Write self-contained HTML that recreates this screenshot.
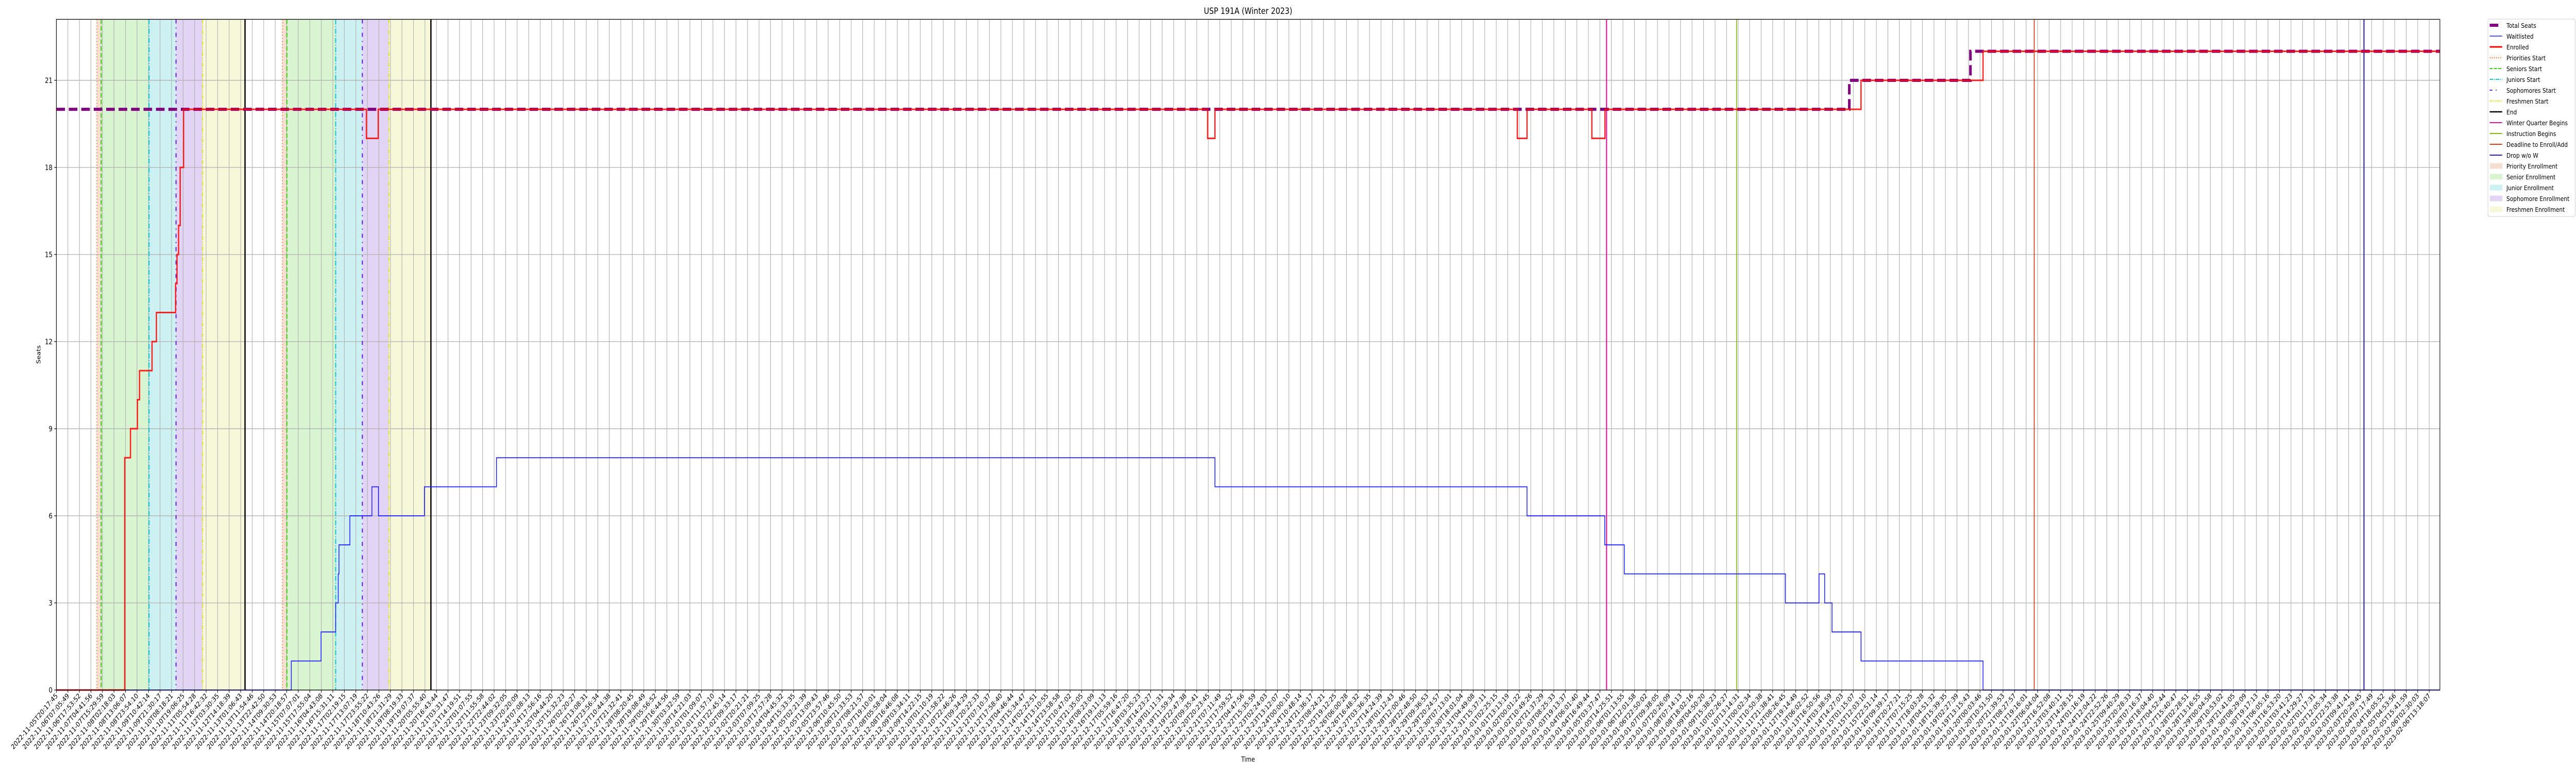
<!DOCTYPE html>
<html><head><meta charset="utf-8"><title>USP 191A (Winter 2023)</title>
<style>
html,body{margin:0;padding:0;background:#fff;width:100%;height:100%;overflow:hidden;}
svg{display:block;width:100vw;height:100vh;}
svg text{font-family:"DejaVu Sans","Liberation Sans",sans-serif;fill:#000;}
</style></head>
<body>
<svg id="chart" xmlns="http://www.w3.org/2000/svg" viewBox="0 0 6000 1500" preserveAspectRatio="none" overflow="hidden">
<rect x="0" y="0" width="6000" height="1500" fill="#fff"/>
<g id="bands"></g>
<g id="grid"></g>
<g id="events"></g>
<g id="series"></g>
<g id="axes"></g>
<text x="2907" y="27" font-size="17" text-anchor="middle">USP 191A (Winter 2023)</text>
<text x="2907" y="1478" font-size="13" text-anchor="middle">Time</text>
<text x="0" y="0" font-size="13" text-anchor="middle" transform="translate(94,688) rotate(-90)">Seats</text>
<g id="legend">
<rect x="5795" y="37" width="203" height="383" rx="3" fill="#fff" fill-opacity="0.8" stroke="#ccc" stroke-width="1"/>
</g>
</svg>
<script>
// ---------- data ----------
const startTime = "2022-11-05T20:17:45";
const totalHours = 2235.0;
const yMax = 23.1;
const yTicks = [0, 3, 6, 9, 12, 15, 18, 21];
const tickIntervalHours = 10.801;
const tickCount = 207;

const enrolledHours = [0, 64.1, 69.5, 76.0, 78.0, 89.7, 93.8, 111.8, 113.1, 114.6, 116.1, 119.3, 290.7, 301.8, 1079.5, 1086.4, 1369.9, 1379.0, 1439.8, 1452.1, 1692.2, 1806.6];
const enrolledValues = [0, 8, 9, 10, 11, 12, 13, 14, 15, 16, 18, 20, 19, 20, 19, 20, 19, 20, 19, 20, 21, 22];

const waitHours = [0, 220.3, 248.2, 261.9, 264.3, 265.0, 275.2, 295.9, 302.0, 345.1, 412.7, 1086.4, 1379.0, 1451.9, 1470.2, 1621.3, 1652.8, 1658.1, 1665.0, 1692.2, 1806.6];
const waitValues = [0, 1, 2, 3, 4, 5, 6, 7, 6, 7, 8, 7, 6, 5, 4, 3, 4, 3, 2, 1, 0];

const seatHours = [0, 1681.2, 1794.8];
const seatValues = [20, 21, 22];

const priorityStarts = [38.0, 212.0];
const seniorStarts = [42.0, 216.1];
const juniorStarts = [86.9, 261.9];
const sophomoreStarts = [112.2, 286.9];
const freshmenStarts = [137.1, 311.8];
const endTimes = [176.9, 351.2];
const winterBegins = [1453.6];
const instructionBegins = [1575.5];
const deadlineEnroll = [1854.6];
const dropNoW = [2163.8];

// ---------- layout ----------
const NS = "http://www.w3.org/2000/svg";
const L = 131.3, R = 5683, T = 37.5, B = 1339;
const xs = h => L + (h / totalHours) * (R - L);
const ys = v => B - (v / yMax) * (B - T);
function mk(tag, attrs, parent) {
  const e = document.createElementNS(NS, tag);
  for (const k in attrs) e.setAttribute(k, attrs[k]);
  parent.appendChild(e);
  return e;
}
const bands = document.getElementById('bands');
const grid = document.getElementById('grid');
const events = document.getElementById('events');
const series = document.getElementById('series');
const axes = document.getElementById('axes');

function band(a, b, color, name) {
  const r = mk('rect', {x: xs(a), y: T, width: xs(b) - xs(a), height: B - T, fill: color}, bands);
  
  
}
for (let i = 0; i < priorityStarts.length; i++) {
  band(priorityStarts[i], seniorStarts[i], '#f6ded3', 'priority-enrollment-band');
  band(seniorStarts[i], juniorStarts[i], '#d9f4d1', 'senior-enrollment-band');
  band(juniorStarts[i], sophomoreStarts[i], '#cdf0f2', 'junior-enrollment-band');
  band(sophomoreStarts[i], freshmenStarts[i], '#e1d4f4', 'sophomore-enrollment-band');
  band(freshmenStarts[i], endTimes[i], '#f6f8d9', 'freshmen-enrollment-band');
}

const t0 = new Date(startTime + "Z").getTime();
function fmt(h) {
  const d = new Date(t0 + Math.round(h * 3600) * 1000);
  return d.toISOString().slice(0, 19);
}
for (let i = 0; i < tickCount; i++) {
  const h = i * tickIntervalHours;
  if (h > totalHours) break;
  const x = xs(h);
  const gl = mk('line', {x1: x, x2: x, y1: T, y2: B, stroke: '#b0b0b0', 'stroke-width': 1.3}, grid);
  
  
  const tk = mk('line', {x1: x, x2: x, y1: B, y2: B + 5, stroke: '#000', 'stroke-width': 1.2}, axes);
  
  
  const tx = mk('text', {x: 0, y: 0, 'font-size': 13.5, 'text-anchor': 'end', transform: `translate(${x + 4},${B + 12}) rotate(-45)`}, axes);
  tx.textContent = fmt(h);
  
  
}
yTicks.forEach(v => {
  const y = ys(v);
  const gl = mk('line', {x1: L, x2: R, y1: y, y2: y, stroke: '#b0b0b0', 'stroke-width': 1.3}, grid);
  
  
  const tk = mk('line', {x1: L - 5, x2: L, y1: y, y2: y, stroke: '#000', 'stroke-width': 1.2}, axes);
  
  
  const tx = mk('text', {x: L - 9, y: y + 5, 'font-size': 14, 'text-anchor': 'end'}, axes);
  tx.textContent = v;
  
  
});

function vline(h, color, w, dash, name) {
  const x = xs(h);
  const a = {x1: x, x2: x, y1: T, y2: B, stroke: color, 'stroke-width': w};
  if (dash) a['stroke-dasharray'] = dash;
  const l = mk('line', a, events);
  
  
}
priorityStarts.forEach(h => vline(h, '#f07a3a', 2, '2 4', 'priorities-start-line'));
seniorStarts.forEach(h => vline(h, '#3dcc14', 2.5, '9 4', 'seniors-start-line'));
juniorStarts.forEach(h => vline(h, '#16c6d2', 2.5, '10 3 2 3', 'juniors-start-line'));
sophomoreStarts.forEach(h => vline(h, '#6a22d8', 2.5, '8 8 2 8', 'sophomores-start-line'));
freshmenStarts.forEach(h => vline(h, '#e3e32e', 2.5, '8 3 2 3 2 3', 'freshmen-start-line'));
endTimes.forEach(h => vline(h, '#000', 3, null, 'end-line'));
winterBegins.forEach(h => vline(h, '#e0139c', 2.5, null, 'winter-quarter-begins-line'));
instructionBegins.forEach(h => vline(h, '#8ab812', 2, null, 'instruction-begins-line'));
deadlineEnroll.forEach(h => vline(h, '#d2401e', 2, null, 'deadline-enroll-line'));
dropNoW.forEach(h => vline(h, '#2f2296', 2.5, null, 'drop-without-w-line'));

function stepPath(hs, vs) {
  let d = `M${xs(hs[0])},${ys(vs[0])}`;
  for (let i = 1; i < hs.length; i++) {
    d += ` H${xs(hs[i])} V${ys(vs[i])}`;
  }
  d += ` H${xs(totalHours)}`;
  return d;
}
const wp = mk('path', {d: stepPath(waitHours, waitValues), fill: 'none', stroke: '#1f1fff', 'stroke-width': 1.8}, series);


const sp = mk('path', {d: stepPath(seatHours, seatValues), fill: 'none', stroke: '#800080', 'stroke-width': 6, 'stroke-dasharray': '20 9'}, series);


const ep = mk('path', {d: stepPath(enrolledHours, enrolledValues), fill: 'none', stroke: '#ff0000', 'stroke-opacity': 0.85, 'stroke-width': 3}, series);



const fr = mk('rect', {x: L, y: T, width: R - L, height: B - T, fill: 'none', stroke: '#000', 'stroke-width': 1.3}, axes);



const legend = document.getElementById('legend');
const legendLabels = ["Total Seats","Waitlisted","Enrolled","Priorities Start","Seniors Start","Juniors Start","Sophomores Start","Freshmen Start","End","Winter Quarter Begins","Instruction Begins","Deadline to Enroll/Add","Drop w/o W","Priority Enrollment","Senior Enrollment","Junior Enrollment","Sophomore Enrollment","Freshmen Enrollment"];
const legendNames = ["legend-total-seats","legend-waitlisted","legend-enrolled","legend-priorities-start","legend-seniors-start","legend-juniors-start","legend-sophomores-start","legend-freshmen-start","legend-end","legend-winter-quarter-begins","legend-instruction-begins","legend-deadline","legend-drop-without-w","legend-priority-enrollment","legend-senior-enrollment","legend-junior-enrollment","legend-sophomore-enrollment","legend-freshmen-enrollment"];
const legendStyle = [
  ['line','#800080',6,'20 9'],['line','#1f1fff',1.5,null],['line','#ff0000',3,null],
  ['line','#f07a3a',2,'2 3'],['line','#3dcc14',2,'7 3'],['line','#16c6d2',2,'8 2 2 2'],
  ['line','#6a22d8',2,'6 8 2 20'],['line','#e3e32e',2,'6 2 2 2 2 2'],['line','#000',2.5,null],
  ['line','#e0139c',2,null],['line','#8ab812',2,null],['line','#d2401e',2,null],['line','#2f2296',2,null],
  ['patch','#f6ded3'],['patch','#d9f4d1'],['patch','#cdf0f2'],['patch','#e1d4f4'],['patch','#f6f8d9']
];
for (let i = 0; i < legendLabels.length; i++) {
  const cy = 49 + i * 21;
  const g = mk('g', {}, legend);
  
  
  const st = legendStyle[i];
  if (st[0] === 'line') {
    const a = {x1: 5799, x2: 5828, y1: cy, y2: cy, stroke: st[1], 'stroke-width': st[2]};
    if (st[3]) a['stroke-dasharray'] = st[3];
    if (i === 0) a.x2 = 5820;
    mk('line', a, g);
  } else {
    mk('rect', {x: 5800, y: cy - 5, width: 28, height: 10, fill: st[1], stroke: st[1]}, g);
  }
  const t = mk('text', {x: 5838, y: cy + 5, 'font-size': 12.8}, g);
  t.textContent = legendLabels[i];
}
</script>
</body></html>
